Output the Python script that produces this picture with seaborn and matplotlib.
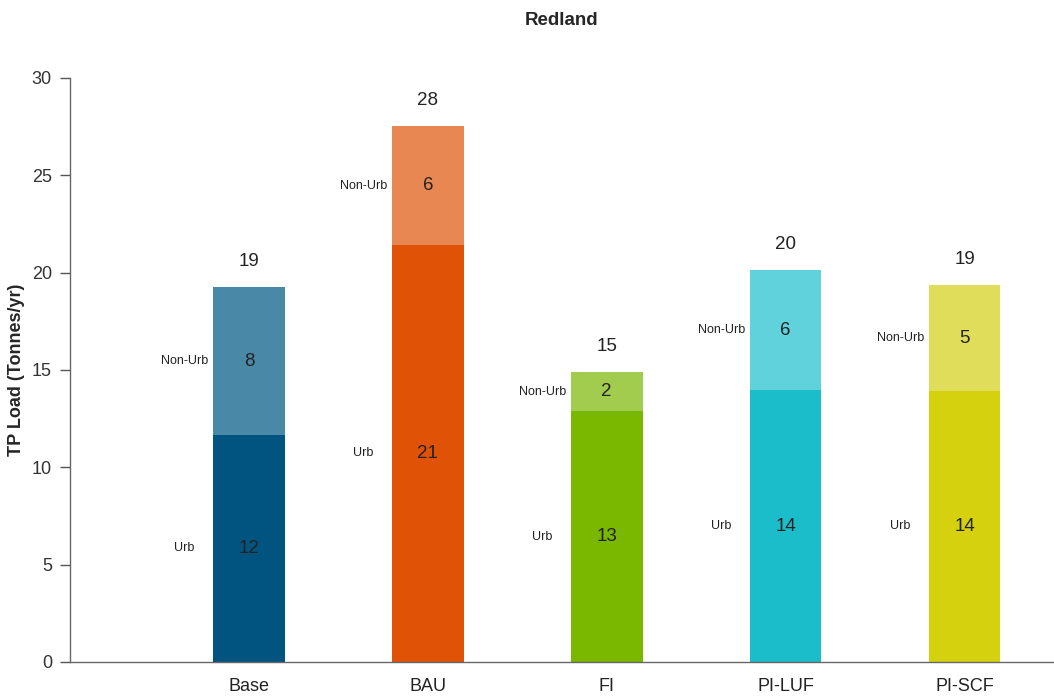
import seaborn as sns
import pandas as pd
import matplotlib.pyplot as plt

scenarios = ['Base', 'BAU', 'FI', 'PI-LUF', 'PI-SCF']
urb = [11.66, 21.42, 12.89, 13.97, 13.92]
non_urb = [7.60, 6.11, 2.00, 6.16, 5.44]

urb_colors = ['#00547f', '#e05206', '#7ab800', '#1bbdca', '#d5d10e']
non_urb_colors = ['#4a88a8', '#e88752', '#a2cc4d', '#5fd2db', '#e0dd5a']

df = pd.DataFrame({'scenario': scenarios, 'urb': urb, 'non_urb': non_urb})
df['total'] = df['urb'] + df['non_urb']

sns.set_style('white')
plt.rcParams['font.family'] = ['Liberation Sans', 'DejaVu Sans']

fig = plt.figure(figsize=(10.54, 7), dpi=100)
ax = fig.add_axes([0.0664, 0.0543, 0.9336, 0.8343])

# stacked: total (light) behind, urban (dark) in front
sns.barplot(data=df, x='scenario', y='total', hue='scenario',
            palette=dict(zip(scenarios, non_urb_colors)), width=0.4,
            legend=False, saturation=1, linewidth=0, ax=ax)
sns.barplot(data=df, x='scenario', y='urb', hue='scenario',
            palette=dict(zip(scenarios, urb_colors)), width=0.4,
            legend=False, saturation=1, linewidth=0, ax=ax)

for i, row in df.iterrows():
    ax.text(i, row['urb'] / 2, f"{row['urb']:.0f}", ha='center', va='center', fontsize=13.5, color='#222222')
    ax.text(i, row['urb'] + row['non_urb'] / 2, f"{row['non_urb']:.0f}", ha='center', va='center', fontsize=13.5, color='#222222')
    ax.text(i, row['total'] + 1.3, f"{row['total']:.0f}", ha='center', va='center', fontsize=13.5, color='#222222')
    ax.text(i - 0.36, row['urb'] / 2, 'Urb', ha='center', va='center', fontsize=9, color='#222222')
    ax.text(i - 0.36, row['urb'] + row['non_urb'] / 2, 'Non-Urb', ha='center', va='center', fontsize=9, color='#222222')

ax.set_xlim(-1, 4.5)
ax.set_ylim(0, 30)
ax.set_yticks([0, 5, 10, 15, 20, 25, 30])
ax.set_xlabel('')
ax.set_ylabel('TP Load (Tonnes/yr)', fontsize=13, fontweight='bold')
ax.yaxis.set_label_coords(-0.046, 0.5)
ax.set_title('Redland', fontsize=13.5, fontweight='bold', pad=38)
ax.tick_params(axis='y', left=True, length=7, width=1, color='#555555', labelsize=13, labelcolor='#333333', pad=6)
ax.tick_params(axis='x', bottom=False, labelsize=13, labelcolor='#222222', pad=8)
sns.despine(ax=ax, top=True, right=True)
for s in ['left', 'bottom']:
    ax.spines[s].set_color('#666666')
    ax.spines[s].set_linewidth(1)

fig.savefig('out.png', dpi=100)
